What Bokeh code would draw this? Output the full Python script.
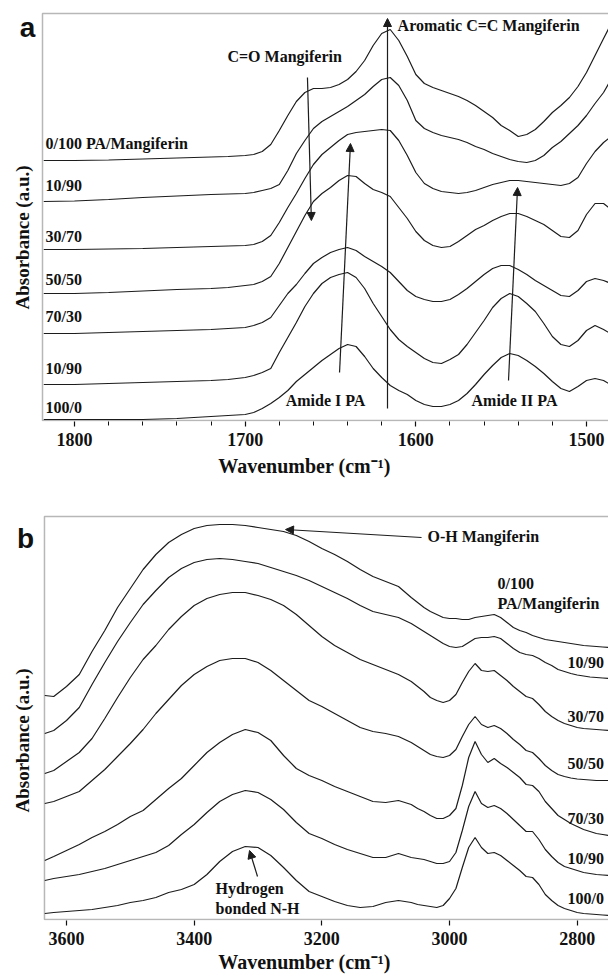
import math
from bokeh.plotting import figure
from bokeh.models import Range1d, FixedTicker, Arrow, NormalHead, BoxAnnotation, Title
from bokeh.layouts import column
from bokeh.core.properties import value
from bokeh.embed import file_html
from bokeh.resources import INLINE

SERIF = "Liberation Serif"
SANS = "Liberation Sans"
INK = "#1c1c1c"

# ---------------- Panel a data (wavenumber, cm-1; absorbance, a.u., stacked) ----------------
wn_a = [1818, 1800, 1780, 1760, 1740, 1720, 1710,
        1700, 1695, 1690, 1685, 1680, 1675, 1670, 1665, 1660, 1655,
        1650, 1645, 1640, 1635, 1630, 1625, 1620, 1615, 1610, 1605,
        1600, 1595, 1590, 1585, 1580, 1575, 1570, 1565, 1560, 1555,
        1550, 1545, 1540, 1535, 1530, 1525, 1520, 1515, 1510, 1505,
        1500, 1495, 1490, 1487]

a_0_100 = [260, 260, 260.5, 261.5, 262.5, 263.5, 264,
           265, 266, 269, 276, 290, 305, 319, 328, 332, 332,
           333, 336, 341, 349, 360, 375, 387, 391, 380, 364,
           346, 337, 333, 330, 327, 324, 320, 315, 309, 303,
           295, 290, 284, 286, 291, 299, 308, 315, 323, 334,
           348, 365, 382, 392]
a_10_90 = [219, 219.5, 221, 223, 224.5, 226, 226.5,
           227, 228, 230, 232, 236, 250, 267, 280, 292, 299,
           304, 309, 314, 320, 326, 334, 341, 343, 335, 320,
           300, 292, 288, 285, 283, 281, 278, 274, 271, 267,
           264, 261, 259, 258, 260, 265, 273, 279, 287, 295,
           305, 317, 328, 337]
a_30_70 = [171, 171, 171.5, 172, 173, 174, 174.5,
           175, 176, 179, 185, 198, 213, 227, 242, 256, 266,
           273, 280, 286, 288, 289, 290, 291, 290, 280, 265,
           248, 237, 232, 229, 228, 227, 228, 230, 233, 236,
           238, 240, 240, 239, 238, 237, 236, 235, 237, 243,
           257, 269, 278, 282]
a_50_50 = [127, 127, 128, 129.5, 131, 132, 133,
           135, 136, 139, 144, 157, 173, 189, 205, 219, 227,
           233, 240, 245, 244, 237, 231, 228, 224, 213, 202,
           189, 180, 175, 173, 174, 179, 185, 191, 195, 200,
           204, 207, 207, 204, 200, 196, 190, 184, 183, 190,
           206, 217, 217, 213]
a_70_30 = [87, 87, 88, 89, 90, 91, 92,
           93, 95, 98, 103, 115, 127, 136, 147, 157, 163,
           168, 171, 173, 170, 164, 159, 154, 148, 139, 130,
           124, 121, 119, 119, 121, 126, 132, 139, 146, 152,
           155, 155, 151, 146, 140, 135, 130, 125, 124, 130,
           139, 142, 140, 138]
a_10_90b = [36, 36, 37, 38, 39, 40, 41,
            43, 45, 48, 52, 68, 83, 98, 114, 127, 137,
            143, 146, 148, 143, 132, 117, 104, 91, 81, 74,
            68, 62, 58, 57, 61, 66, 76, 88, 100, 113,
            122, 127, 124, 117, 109, 97, 84, 76, 74, 80,
            90, 95, 91, 88]
a_100_0 = [1, 1, 1, 1, 2, 4, 5,
           6, 8, 12, 17, 23, 30, 39, 46, 53, 60,
           66, 72, 76, 74, 64, 52, 43, 35, 30, 26,
           20, 16, 14, 14, 16, 20, 27, 36, 46, 55,
           63, 67, 65, 60, 54, 47, 39, 32, 29, 34,
           40, 42, 40, 37]
series_a = [a_0_100, a_10_90, a_30_70, a_50_50, a_70_30, a_10_90b, a_100_0]

labels_a = ["0/100 PA/Mangiferin", "10/90", "30/70", "50/50", "70/30", "10/90", "100/0"]
labels_a_y = [277, 235, 184, 141, 104, 52, 13]
ticks_a = [1800, 1700, 1600, 1500]
minor_a = [1780, 1760, 1740, 1720, 1680, 1660, 1640, 1620, 1580, 1560, 1540, 1520]

# ---------------- Panel b data ----------------
wn_b = [3634, 3620, 3600, 3580, 3560, 3540, 3520, 3500, 3480, 3460,
        3440, 3420, 3400, 3380, 3360, 3340, 3320, 3300, 3280, 3260,
        3240, 3220, 3200, 3180, 3160, 3140, 3120, 3100, 3080, 3060,
        3050, 3040, 3030, 3020, 3010, 3000, 2990, 2980, 2970, 2960,
        2950, 2940, 2930, 2920, 2910, 2900, 2890, 2880, 2870, 2860,
        2850, 2840, 2830, 2820, 2810, 2800, 2790, 2780, 2770, 2760,
        2751]

b_0_100 = [224, 223, 233, 245, 268, 289, 312, 331, 350, 365,
           377, 385, 391, 394, 395, 395, 394, 392, 390, 388,
           384, 378, 371, 365, 358, 350, 343, 338, 333, 322,
           317, 312, 308, 305, 302, 301, 301, 300, 300, 302,
           303, 304, 305, 302, 297, 292, 289, 287, 284, 282,
           280, 279, 278, 277, 276, 275, 274, 273.5, 273, 272.5,
           272]
b_10_90 = [186, 189, 199, 212, 235, 257, 278, 297, 315, 329,
           342, 351, 357, 360, 361, 360, 358, 356, 352, 348,
           344, 339, 333, 327, 321, 314, 308, 305, 302, 296,
           292, 288, 284, 280, 276, 273, 272, 273, 277, 281,
           282, 282, 283, 281, 276, 271, 267, 265, 264, 261,
           257, 254, 250, 248, 246, 244.5, 243.5, 242.5, 242, 241.5,
           241]
b_30_70 = [146, 149, 158, 167, 181, 201, 222, 242, 260, 274,
           290, 303, 314, 321, 325, 327, 327, 324, 320, 314,
           305, 294, 283, 274, 267, 260, 255, 250, 245, 238,
           233, 228, 222, 219, 217, 219, 225, 237, 248, 256,
           249, 248, 249, 244, 239, 233, 228, 223, 221, 215,
           208, 203, 199, 196, 194, 192, 191, 190.5, 190, 189.5,
           189]
b_50_50 = [116, 118, 123, 128, 139, 150, 163, 176, 190, 206,
           220, 234, 245, 253, 259, 261, 261, 257, 249, 239,
           229, 219, 213, 206, 199, 192, 188, 186, 183, 177,
           173, 169, 165, 163, 162, 164, 170, 183, 195, 203,
           195, 192, 194, 191, 186, 180, 175, 169, 167, 161,
           154, 149, 145, 143, 141.5, 140.5, 140, 139.5, 139, 139,
           139]
b_70_30 = [59, 63, 69, 75, 82, 88, 95, 103, 109, 120,
           131, 141, 154, 167, 177, 185, 190, 187, 179, 164,
           151, 144, 139, 133, 128, 123, 118, 117, 119, 115,
           111, 108, 104, 101, 101, 104, 111, 134, 162, 178,
           165, 157, 161, 156, 152, 147, 142, 135, 134, 128,
           118, 111, 104, 100, 96, 93, 90, 88, 86, 85,
           84]
b_10_90b = [39, 41, 43, 45, 48, 51, 55, 59, 63, 67,
            74, 85, 95, 107, 118, 125, 129, 127, 120, 110,
            97, 86, 81, 75, 70, 66, 62, 62, 66, 62,
            61, 60, 58, 56, 56, 58, 67, 89, 113, 128,
            116, 112, 114, 111, 106, 100, 94, 88, 88, 80,
            70, 63, 57, 53, 51, 49, 47, 46, 45, 44.5,
            44]
b_100_0 = [6, 7, 8, 9, 10, 12, 14, 17, 19, 22,
           27, 30, 35, 45, 58, 68, 73, 72, 64, 52,
           39, 28, 23, 18, 14, 12, 13, 17, 19, 17,
           15, 14, 13, 12, 14, 21, 31, 52, 72, 82,
           72, 66, 67, 64, 59, 54, 49, 43, 42, 35,
           25, 19, 14, 11, 9, 7, 6, 5.5, 5, 4.5,
           4]
series_b = [b_0_100, b_10_90, b_30_70, b_50_50, b_70_30, b_10_90b, b_100_0]

labels_b = ["10/90", "30/70", "50/50", "70/30", "10/90", "100/0"]
labels_b_y = [257, 203, 156, 101, 61, 21]
ticks_b = [3600, 3400, 3200, 3000, 2800]
minor_b = []

X_TITLE = "Wavenumber (cm\u207b\u00b9)"
Y_TITLE = "Absorbance (a.u.)"


def base_figure(xr, yr, h, bottom, box, ticks, minor, title_offset, title_standoff):
    p = figure(width=608, height=h, x_range=Range1d(*xr), y_range=Range1d(*yr),
               output_backend="svg", toolbar_location=None, title=None,
               y_axis_location=None,
               min_border_left=0, min_border_right=0,
               min_border_top=0, min_border_bottom=bottom)
    p.xgrid.visible = False
    p.ygrid.visible = False
    p.outline_line_color = None
    p.background_fill_color = "white"
    p.border_fill_color = "white"
    ax = p.below[0]
    ax.ticker = FixedTicker(ticks=ticks, minor_ticks=minor)
    ax.axis_line_color = None
    ax.major_tick_in = 0
    ax.major_tick_out = 5
    ax.minor_tick_in = 0
    ax.minor_tick_out = 4
    ax.major_tick_line_width = 1.2
    ax.minor_tick_line_width = 1.0
    ax.major_tick_line_color = "#111111"
    ax.minor_tick_line_color = "#111111" if minor else None
    ax.major_label_text_font = SERIF
    ax.major_label_text_font_style = "bold"
    ax.major_label_text_font_size = "18px"
    ax.major_label_text_color = "#111111"
    ax.major_label_standoff = 6
    # frame lines: left, top and bottom (right side runs past the picture edge)
    p.add_layout(BoxAnnotation(left=box[0], right=box[1], bottom=box[2], top=box[3],
                               fill_alpha=0, fill_color=None,
                               line_color="#111111", line_width=1.5))
    p.add_layout(Title(text=X_TITLE, align="center", offset=title_offset,
                       standoff=title_standoff, text_font=SERIF,
                       text_font_style="bold", text_font_size="20px",
                       text_color="#111111"), "below")
    return p


def txt(p, xs, ys, texts, size="16px", align="left", font=SERIF, angle=0.0):
    p.text(x=xs, y=ys, text=texts, text_font=value(font), text_font_style="bold",
           text_font_size=size, text_align=align, text_baseline="middle",
           text_color="#111111", angle=angle)


def arrow(p, x0, y0, x1, y1):
    p.add_layout(Arrow(end=NormalHead(size=8, fill_color=INK, line_color=INK, line_width=1),
                       x_start=x0, y_start=y0, x_end=x1, y_end=y1,
                       line_color=INK, line_width=1.2))


# ---------------- Panel a ----------------
pa = base_figure((1843.36, 1487.11), (-1, 420), 490, 69,
                 (1818.75, 1450, 0, 407), ticks_a, minor_a, 27, 9)
for s in series_a:
    pa.line(wn_a, s, line_color=INK, line_width=1.2)
txt(pa, [1817] * len(labels_a), labels_a_y, labels_a)
arrow(pa, 1616.6, 12, 1616.6, 402)
txt(pa, [1610.7], [395], ["Aromatic C=C Mangiferin"])
arrow(pa, 1663.5, 343, 1661.2, 200)
txt(pa, [1710.4], [364], ["C=O Mangiferin"])
arrow(pa, 1644.7, 48, 1638.3, 277)
txt(pa, [1652.9], [20], ["Amide I PA"], align="center")
arrow(pa, 1545.7, 40, 1540.4, 233)
txt(pa, [1542.2], [20], ["Amide II PA"], align="center")
txt(pa, [1830.5], [183], [Y_TITLE], size="19px", align="center", angle=math.pi / 2)
txt(pa, [1827.5], [393], ["a"], size="28px", align="center", font=SANS)

# ---------------- Panel b ----------------
pb = base_figure((3703.38, 2751.0), (-1, 429), 489, 59,
                 (3634.5, 2700, 0, 403), ticks_b, minor_b, 32, 3)
for s in series_b:
    pb.line(wn_b, s, line_color=INK, line_width=1.2)
txt(pb, [2815.2] * len(labels_b), labels_b_y, labels_b)
txt(pb, [2924.9, 2924.9], [336, 316], ["0/100", "PA/Mangiferin"])
arrow(pb, 3043.9, 382, 3256.9, 390)
txt(pb, [3034.5], [383], ["O-H Mangiferin"])
arrow(pb, 3300.8, 43, 3313.3, 69)
txt(pb, [3366.6, 3366.6], [31, 11], ["Hydrogen", "bonded N-H"])
txt(pb, [3668.9], [179], [Y_TITLE], size="19px", align="center", angle=math.pi / 2)
txt(pb, [3664.2], [381], ["b"], size="28px", align="center", font=SANS)

layout = column(pa, pb, spacing=0)
open("out.html", "w").write(file_html(layout, INLINE))
